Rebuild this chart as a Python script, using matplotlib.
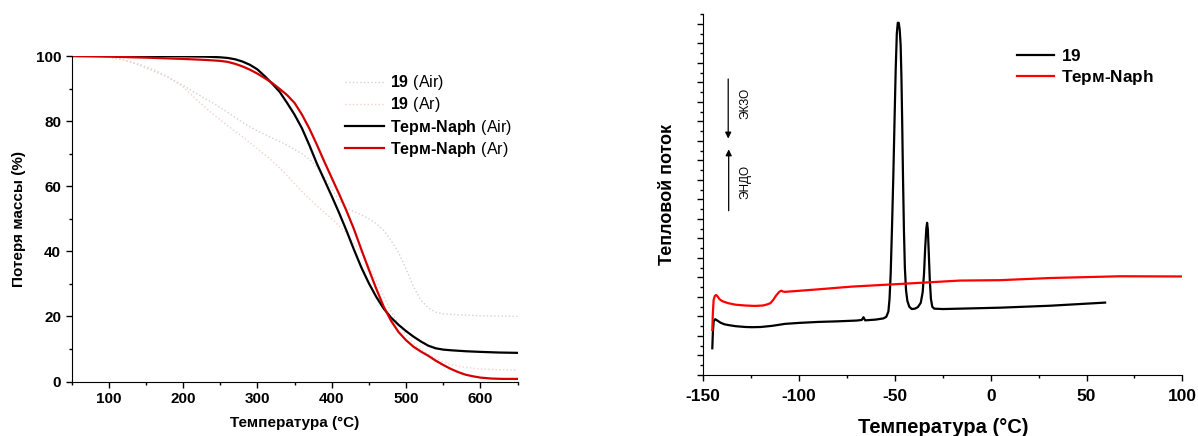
import matplotlib
matplotlib.use("Agg")
import matplotlib.pyplot as plt
from matplotlib.ticker import MultipleLocator, NullFormatter

plt.rcParams['font.family'] = ['Liberation Sans', 'DejaVu Sans']
plt.rcParams['mathtext.fontset'] = 'custom'
plt.rcParams['mathtext.rm'] = 'Liberation Sans'
plt.rcParams['mathtext.bf'] = 'Liberation Sans:bold'
plt.rcParams['axes.unicode_minus'] = False

# ---- TGA: mass loss (%) vs temperature (°C) ----
tga19_air_T = [50, 80, 100, 120, 140, 160, 180, 200, 220, 240, 260, 280, 300, 320, 340,
               360, 375, 390, 400, 410, 420, 430, 440, 450, 460, 470, 480, 490, 500, 510,
               520, 530, 540, 550, 570, 600, 650]
tga19_air_W = [100, 99.9, 99.6, 98.8, 97.3, 95.4, 93.4, 91.0, 88.2, 85.6, 82.7, 79.6, 77.0,
               74.8, 72.6, 70.0, 67.3, 62.8, 59.3, 55.6, 53.3, 52.2, 51.2, 50.0, 48.5, 46.4,
               43.3, 39.6, 34.6, 29.2, 25.0, 22.6, 21.3, 20.8, 20.5, 20.2, 20.0]

tga19_ar_T = [50, 80, 100, 120, 140, 160, 180, 200, 220, 240, 260, 280, 300, 320, 340,
              360, 380, 400, 420, 440, 450, 460, 470, 480, 490, 500, 510, 520, 530, 540,
              550, 560, 575, 600, 625, 650]
tga19_ar_W = [100, 99.9, 99.6, 98.9, 97.6, 95.9, 93.6, 90.5, 86.2, 82.2, 78.6, 75.2, 71.5,
              67.8, 63.3, 58.3, 54.0, 50.0, 45.6, 39.5, 35.5, 31.0, 26.2, 21.5, 17.6, 14.4,
              11.8, 9.8, 8.3, 7.0, 6.0, 5.2, 4.5, 3.8, 3.6, 3.5]

tgaN_air_T = [50, 100, 150, 200, 230, 250, 260, 270, 280, 290, 300, 310, 320, 330, 340,
              350, 360, 370, 380, 390, 400, 410, 420, 430, 440, 450, 460, 470, 480, 490,
              500, 510, 520, 530, 540, 550, 560, 580, 600, 625, 650]
tgaN_air_W = [100, 100, 100, 99.9, 99.8, 99.6, 99.4, 99.0, 98.3, 97.3, 95.9, 93.8, 91.5,
              89.0, 85.6, 82.0, 77.8, 72.6, 67.0, 62.0, 57.0, 51.8, 46.3, 40.5, 35.0, 30.2,
              26.0, 22.4, 19.6, 17.4, 15.5, 13.8, 12.3, 11.0, 10.2, 9.8, 9.6, 9.3, 9.1,
              8.9, 8.8]

tgaN_ar_T = [50, 100, 150, 200, 230, 250, 260, 270, 280, 290, 300, 310, 320, 330, 340,
             350, 360, 370, 380, 390, 400, 410, 420, 430, 440, 450, 460, 470, 480, 490,
             500, 510, 520, 530, 540, 550, 560, 570, 580, 590, 600, 615, 630, 650]
tgaN_ar_W = [100, 99.8, 99.5, 99.1, 98.8, 98.5, 98.2, 97.6, 96.8, 95.8, 94.6, 93.2, 91.7,
             89.9, 88.0, 85.6, 82.0, 77.7, 72.8, 67.6, 62.6, 57.6, 52.4, 46.8, 40.5, 34.4,
             28.5, 23.0, 18.6, 15.2, 12.7, 10.7, 9.2, 7.9, 6.4, 5.1, 3.9, 2.9, 2.1, 1.6,
             1.2, 0.9, 0.8, 0.8]

# ---- DSC: heat flow (a.u.) vs temperature (°C) ----
dsc19_T = [-145.3, -145.0, -144.6, -143.8, -142.5, -141.0, -139.0, -137.0, -133.0, -128.0,
           -124.7, -120.0, -114.0, -107.4, -100.0, -90.0, -80.0, -70.0, -67.3, -66.4,
           -65.5, -60.0, -56.0, -54.5, -53.4, -52.8, -52.2, -51.5, -50.8, -50.2, -49.6,
           -49.0, -48.5, -48.0, -47.5, -47.0, -46.6, -46.2, -45.8, -45.3, -44.8, -44.2,
           -43.5, -42.5, -41.2, -39.5, -38.0, -36.5, -35.5, -34.8, -34.2, -33.6, -33.2,
           -32.8, -32.3, -31.8, -31.2, -30.5, -29.5, -25.0, -16.0, 4.9, 31.0, 59.7]
dsc19_y = [1.37, 2.20, 2.75, 2.86, 2.78, 2.68, 2.60, 2.56, 2.50, 2.46,
           2.45, 2.46, 2.52, 2.62, 2.67, 2.72, 2.75, 2.79, 2.82, 2.96,
           2.80, 2.84, 2.90, 2.98, 3.25, 3.9, 5.2, 7.6, 10.3, 13.0, 15.6,
           17.5, 18.05, 18.05, 17.7, 16.9, 15.3, 13.0, 10.3, 7.5, 5.5, 4.35,
           3.8, 3.5, 3.38, 3.40, 3.48, 3.70, 4.25, 5.2, 6.5, 7.5, 7.8,
           7.45, 6.2, 4.9, 3.9, 3.5, 3.4, 3.38, 3.40, 3.45, 3.55, 3.71]

dscN_T = [-145.3, -145.0, -144.6, -144.0, -143.3, -142.5, -141.5, -140.0, -137.0, -133.0,
          -128.0, -123.0, -119.0, -116.9, -115.0, -113.5, -112.0, -110.5, -109.4, -108.5,
          -107.4, -90.0, -72.5, -44.7, -16.0, 4.9, 31.0, 67.5, 100.0]
dscN_y = [2.31, 3.20, 3.85, 4.05, 4.10, 4.02, 3.88, 3.78, 3.68, 3.60,
          3.56, 3.54, 3.56, 3.61, 3.68, 3.85, 4.07, 4.25, 4.32, 4.28,
          4.26, 4.39, 4.53, 4.68, 4.84, 4.86, 4.97, 5.06, 5.05]

W, H = 1198, 436
fig = plt.figure(figsize=(W / 100, H / 100), dpi=100)

def frac(x0, y0, x1, y1):
    return [x0 / W, 1 - y1 / H, (x1 - x0) / W, (y1 - y0) / H]

# ---------------- left panel: TGA ----------------
ax1 = fig.add_axes(frac(71.5, 56, 517.5, 381.5))
ax1.plot(tga19_air_T, tga19_air_W, ls=':', lw=1.0, color='#d2d2d2',
         label=r'$\mathbf{19}\ \mathrm{(Air)}$')
ax1.plot(tga19_ar_T, tga19_ar_W, ls=':', lw=1.0, color='#f5d0d0',
         label=r'$\mathbf{19}\ \mathrm{(Ar)}$')
ax1.plot(tgaN_air_T, tgaN_air_W, ls='-', lw=1.6, color='black',
         label='$\\mathbf{Терм\u2010Naph}\\ \\mathrm{(Air)}$')
ax1.plot(tgaN_ar_T, tgaN_ar_W, ls='-', lw=1.6, color='#d20000',
         label='$\\mathbf{Терм\u2010Naph}\\ \\mathrm{(Ar)}$')
ax1.set_xlim(50, 650)
ax1.set_ylim(0, 100)
ax1.xaxis.set_major_locator(MultipleLocator(100))
ax1.xaxis.set_minor_locator(MultipleLocator(50))
ax1.yaxis.set_major_locator(MultipleLocator(20))
ax1.yaxis.set_minor_locator(MultipleLocator(10))
for s in ('top', 'right'):
    ax1.spines[s].set_visible(False)
ax1.tick_params(which='major', direction='out', length=4, width=1, labelsize=11)
ax1.tick_params(which='minor', direction='out', length=2.5, width=1)
for lab in ax1.get_xticklabels() + ax1.get_yticklabels():
    lab.set_fontweight('bold')
ax1.set_xlabel('Температура (°C)', fontsize=11, fontweight='bold', labelpad=7)
ax1.set_ylabel('Потеря массы (%)', fontsize=11, fontweight='bold', labelpad=7)
ax1.legend(loc='upper left', bbox_to_anchor=(0.6, 0.967), frameon=False,
           fontsize=11.5, handlelength=2.4, handletextpad=0.4,
           labelspacing=0.2, borderaxespad=0)

# ---------------- right panel: DSC ----------------
ax2 = fig.add_axes(frac(703.3, 14, 1182.3, 375))
ax2.plot(dsc19_T, dsc19_y, color='black', lw=1.6, label=r'$\mathbf{19}$')
ax2.plot(dscN_T, dscN_y, color='#ff0000', lw=1.6, label='$\\mathbf{Терм\u2010Naph}$')
ax2.set_xlim(-150, 100)
ax2.set_ylim(0, 18.5)
ax2.xaxis.set_major_locator(MultipleLocator(50))
ax2.xaxis.set_minor_locator(MultipleLocator(25))
ax2.yaxis.set_major_locator(MultipleLocator(1))
ax2.yaxis.set_minor_locator(MultipleLocator(0.5))
ax2.yaxis.set_major_formatter(NullFormatter())
for s in ('top', 'right'):
    ax2.spines[s].set_visible(False)
ax2.tick_params(which='major', direction='out', length=4, width=1, labelsize=12.5, pad=6)
ax2.tick_params(which='minor', direction='out', length=2.5, width=1)
for lab in ax2.get_xticklabels():
    lab.set_fontweight('bold')
ax2.set_xlabel('Температура (°C)', fontsize=14.5, fontweight='bold', labelpad=10)
ax2.set_ylabel('Тепловой поток', fontsize=13, fontweight='bold', labelpad=10)
ax2.legend(loc='upper left', bbox_to_anchor=(0.64, 0.925), frameon=False,
           fontsize=12.3, handlelength=2.2, handletextpad=0.4,
           labelspacing=0.25, borderaxespad=0)

# exo / endo direction arrows
ax2.annotate('', xy=(0.052, 0.655), xytext=(0.052, 0.82), xycoords='axes fraction',
             arrowprops=dict(arrowstyle='-|>', color='black', lw=0.9,
                             mutation_scale=9, shrinkA=0, shrinkB=0))
ax2.annotate('', xy=(0.053, 0.625), xytext=(0.053, 0.455), xycoords='axes fraction',
             arrowprops=dict(arrowstyle='-|>', color='black', lw=0.9,
                             mutation_scale=9, shrinkA=0, shrinkB=0))
ax2.text(0.087, 0.752, 'ЭКЗО', transform=ax2.transAxes, rotation=90,
         ha='center', va='center', fontsize=8.5)
ax2.text(0.088, 0.535, 'ЭНДО', transform=ax2.transAxes, rotation=90,
         ha='center', va='center', fontsize=8.5)

fig.savefig('out.png', dpi=100)
